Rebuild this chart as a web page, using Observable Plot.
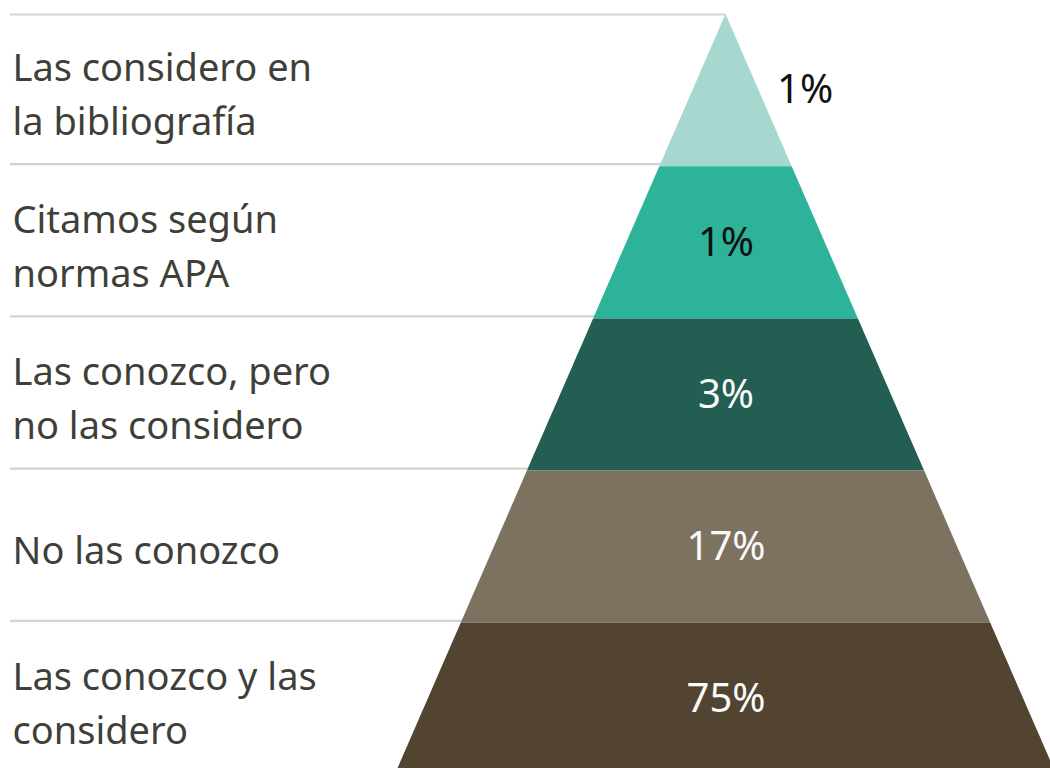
<!DOCTYPE html>
<html><head><meta charset="utf-8">
<script src="https://cdn.jsdelivr.net/npm/d3@7"></script>
<script src="https://cdn.jsdelivr.net/npm/@observablehq/plot@0.6"></script>
<style>html,body{margin:0;padding:0;background:#fff;}</style>
</head><body><div id="chart"></div>
<script>
const categories = [
  "Las considero en\nla bibliografía",
  "Citamos según\nnormas APA",
  "Las conozco, pero\nno las considero",
  "No las conozco",
  "Las conozco y las\nconsidero"
];
const values = [1, 1, 3, 17, 75];
const colors = ["#a6d8cf", "#2db39a", "#235e52", "#7d7260", "#524430"];

const levels = categories.map((c, i) => ({cat: c, i, value: values[i]}));
const bands = levels.flatMap(d => [{cat: d.cat, level: d.i}, {cat: d.cat, level: d.i + 1}]);
const font = "'Noto Sans', sans-serif";

const W = 1050, H = 768, ML = 10;
const xDomain = [-5, 5], xRange = [394.5, 1056.5];
// left end of the separator rules = the frame's left edge, in data units
const xLeft = d3.scaleLinear(xDomain, xRange).invert(ML);

const plot = Plot.plot({
  width: W, height: H,
  marginLeft: ML, marginRight: 0, marginTop: 0, marginBottom: 0,
  x: {domain: xDomain, range: xRange, axis: null},
  y: {domain: [0, 5], range: [14, 775], axis: null},
  color: {domain: categories, range: colors},
  style: {fontFamily: font, background: "#fff"},
  marks: [
    Plot.ruleY([0], {x1: xLeft, x2: 0, stroke: "#d3d3d3", strokeWidth: 2.2}),
    Plot.ruleY([1, 2, 3, 4], {x1: xLeft, x2: 0, dy: -2.5, stroke: "#d3d3d3", strokeWidth: 2.2}),
    Plot.areaX(bands, {y: "level", x1: d => -d.level, x2: d => d.level, z: "cat", fill: "cat", curve: "linear"}),
    Plot.text(levels, {y: d => d.i + 0.5, frameAnchor: "left", dx: 2, text: "cat", textAnchor: "start", lineAnchor: "middle", fontSize: 38, lineHeight: 1.42, fill: "#3f3f3a", fontFamily: font}),
    Plot.text(levels.filter(d => d.i > 0), {x: 0, y: d => d.i + 0.5, text: d => d.value + "%", textAnchor: "middle", lineAnchor: "middle", fontSize: 40, fill: d => d.i < 2 ? "#111" : "#fafafa", fontFamily: font}),
    Plot.text(levels.filter(d => d.i === 0), {x: d => d.i + 0.5, y: d => d.i + 0.5, dx: 18, text: d => d.value + "%", textAnchor: "start", lineAnchor: "middle", fontSize: 40, fill: "#111", fontFamily: font})
  ]
});
document.getElementById("chart").appendChild(plot);
</script>
</body></html>
